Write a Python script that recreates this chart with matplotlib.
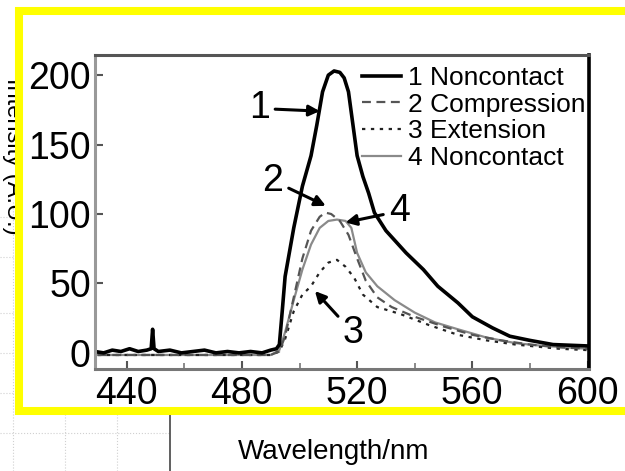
import matplotlib
matplotlib.use('Agg')
import matplotlib.pyplot as plt
from matplotlib.lines import Line2D
from matplotlib.patches import Rectangle
from matplotlib.ticker import MultipleLocator

# spectra (wavelength in nm, intensity in a.u.)
wl_1 = [429, 432, 435, 438, 441, 444, 447, 448.5, 449, 449.5, 451, 455, 459, 463, 467,
        471, 475, 479, 483, 487, 490, 492, 493, 494, 495, 498, 501, 504, 506, 508, 510,
        512, 514, 515.5, 517, 518.5, 520, 522, 524, 526, 530, 537, 543, 548, 555, 560,
        567, 573, 580, 588, 600]
int_1 = [1, 0, 2, 1, 3, 1, 2, 3, 17, 3, 1, 2, 0, 1, 2,
         0, 1, 0, 1, 0, 2, 3, 6, 30, 55, 90, 120, 142, 164, 188, 200,
         203, 202, 198, 188, 165, 142, 127, 115, 101, 88, 72, 60, 48, 36, 26,
         18, 12, 9, 6, 5]

wl_2 = [430, 490, 493, 495, 498, 501, 504, 507, 509, 511, 514, 517, 520, 523, 527,
        532, 540, 550, 560, 570, 580, 590, 600]
int_2 = [-1.5, -1.5, 1, 12, 40, 68, 88, 98, 101, 100, 95, 85, 68, 52, 40,
         33, 26, 19, 13, 9, 6, 4, 3]

wl_3 = [430, 490, 493, 495, 498, 501, 504, 507, 510, 513, 516, 519, 522, 527, 535,
        545, 555, 565, 575, 590, 600]
int_3 = [-1.5, -1.5, 1, 10, 30, 42, 48, 58, 65, 67, 62, 54, 42, 33, 28,
         20, 13, 9, 6, 3, 2]

wl_4 = [430, 490, 493, 495, 498, 501, 504, 507, 510, 513, 516, 518, 520, 523, 527,
        533, 540, 547, 555, 565, 575, 585, 600]
int_4 = [-1.5, -1.5, 2, 15, 38, 60, 78, 90, 95, 96, 95, 90, 72, 58, 48,
         38, 29, 22, 17, 11, 7, 5, 3]

labels = ['1 Noncontact', '2 Compression', '3 Extension', '4 Noncontact']

W, H = 625, 471
fig = plt.figure(figsize=(W / 100, H / 100), dpi=100)
fig.patch.set_facecolor('white')

font = 'Liberation Sans'

# faint spreadsheet chart peeking out behind the pasted scan
bg = fig.add_axes([0, 0, 170 / W, 1 - 200 / H], zorder=-3)
bg.set_xlim(0, 170)
bg.set_ylim(271, 0)
bg.set_xticks([13, 65, 117])
bg.set_yticks([17, 57, 113, 153, 193, 233])
bg.grid(True, color='#d0d0d0', ls=':', lw=0.8)
bg.tick_params(length=0, labelleft=False, labelbottom=False)
for s in ['top', 'left', 'bottom']:
    bg.spines[s].set_visible(False)
bg.spines['right'].set_color('#444444')
bg.spines['right'].set_linewidth(1.2)
bg.set_facecolor('white')

# y label of the chart behind, mostly hidden by the frame
fig.text(13 / W, 1 - 78 / H, 'Intensity (A.U.)', rotation=270, ha='center', va='top',
         fontsize=17, family=font, zorder=-2.5)

# yellow frame around the scan
frame = Rectangle((19 / W, 1 - 411 / H), 640 / W, 400 / H, transform=fig.transFigure,
                  facecolor='white', edgecolor='#ffff00', lw=5.8, zorder=-1)
fig.add_artist(frame)

fig.text(334 / W, 1 - 452 / H, 'Wavelength/nm', ha='center', va='center',
         fontsize=20, family=font, zorder=2)

ax = fig.add_axes([95 / W, 1 - 369 / H, 494 / W, 314 / H], zorder=1)
ax.plot(wl_4, int_4, color='#8a8a8a', lw=1.6)
ax.plot(wl_3, int_3, color='#222222', lw=1.6, dashes=(1.5, 2.5))
ax.plot(wl_2, int_2, color='#555555', lw=1.6, dashes=(4, 2.5))
ax.plot(wl_1, int_1, color='black', lw=2.6)

ax.set_xlim(429, 600.5)
ax.set_ylim(-11.6, 214.5)
ax.xaxis.set_major_locator(MultipleLocator(40))
ax.xaxis.set_minor_locator(MultipleLocator(20))
ax.yaxis.set_major_locator(MultipleLocator(50))
ax.tick_params(axis='both', which='major', direction='in', length=6, width=1.5,
               color='#555555', labelsize=27)
ax.tick_params(axis='x', which='minor', direction='in', length=4, width=1.2, color='#777777')
ax.tick_params(axis='y', pad=3)
ax.tick_params(axis='x', pad=5)
for lab in ax.get_xticklabels() + ax.get_yticklabels():
    lab.set_family(font)

ax.spines['top'].set_color('#555555')
ax.spines['top'].set_linewidth(2.2)
ax.spines['left'].set_color('#999999')
ax.spines['left'].set_linewidth(2.2)
ax.spines['bottom'].set_color('#777777')
ax.spines['bottom'].set_linewidth(2.2)
ax.spines['right'].set_color('black')
ax.spines['right'].set_linewidth(2.6)

handles = [Line2D([], [], color='black', lw=2.6),
           Line2D([], [], color='#555555', lw=1.6, dashes=(4, 2.5)),
           Line2D([], [], color='#222222', lw=1.6, dashes=(1.5, 2.5)),
           Line2D([], [], color='#8a8a8a', lw=1.6)]
ax.legend(handles, labels, loc='upper left', bbox_to_anchor=(0.54, 0.965),
          frameon=False, prop={'family': font, 'size': 19}, handlelength=1.5,
          handletextpad=0.25, labelspacing=0.1, borderpad=0, borderaxespad=0)

arrow = dict(arrowstyle='-|>', color='black', lw=2.2, mutation_scale=16)
ax.annotate('1', xy=(508, 174), xytext=(486, 176), ha='center', va='center',
            fontsize=27, family=font, arrowprops=arrow)
ax.annotate('2', xy=(510, 105), xytext=(490.8, 124), ha='center', va='center',
            fontsize=27, family=font, arrowprops=arrow)
ax.annotate('4', xy=(515, 93.5), xytext=(534.6, 102), ha='center', va='center',
            fontsize=27, family=font, arrowprops=arrow)
ax.annotate('3', xy=(504.7, 46), xytext=(518.6, 14.5), ha='center', va='center',
            fontsize=27, family=font, arrowprops=arrow)

fig.savefig('out.png', dpi=100)
